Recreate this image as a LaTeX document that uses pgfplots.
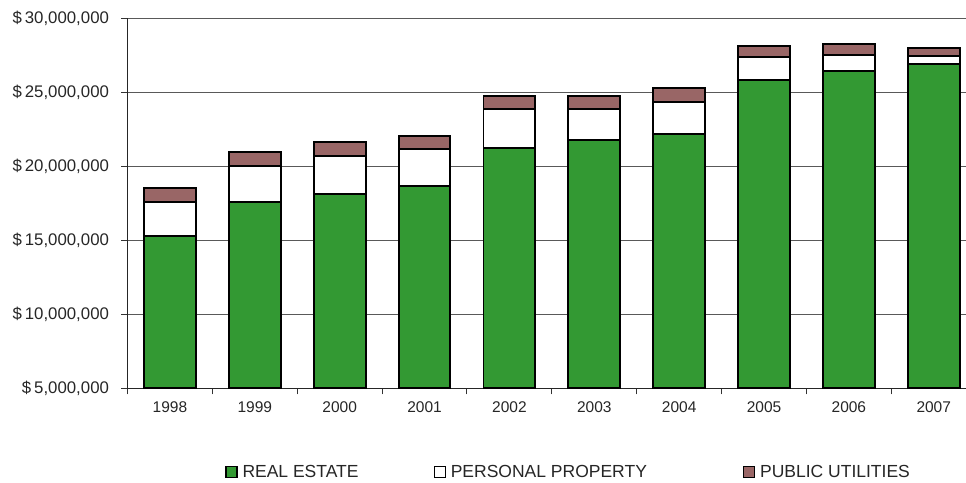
\documentclass[border=0pt]{standalone}
\usepackage{pgfplots}
\pgfplotsset{compat=1.18}
\usepackage{fontspec}
\setmainfont{Liberation Sans}
\definecolor{realestate}{HTML}{339933}
\definecolor{utilities}{HTML}{996666}
\newcommand{\dl}{\$\hspace{3pt}}
\begin{document}
\begin{tikzpicture}
\begin{axis}[
  name=ax,
  scale only axis,
  width=838.5pt, height=370pt,
  ybar stacked,
  bar width=0.61,
  xmin=-0.5, xmax=9.38,
  ymin=5000000, ymax=30000000,
  scaled y ticks=false,
  xtick={0,...,9},
  xticklabels={1998,1999,2000,2001,2002,2003,2004,2005,2006,2007},
  major x tick style={draw=none},
  minor xtick={-0.5,0.5,1.5,2.5,3.5,4.5,5.5,6.5,7.5,8.5},
  minor tick length=6pt,
  minor x tick style={black!80, line width=1pt},
  ytick={5000000,10000000,15000000,20000000,25000000,30000000},
  yticklabels={{\dl5,000,000},{\dl10,000,000},{\dl15,000,000},{\dl20,000,000},{\dl25,000,000},{\dl30,000,000}},
  major tick length=6pt,
  tick align=outside,
  tick pos=left,
  y tick style={black!80, line width=1pt},
  ymajorgrids,
  grid style={black!65, line width=0.9pt},
  axis x line*=bottom,
  axis y line*=left,
  axis line style={black!85, line width=1pt, -},
  ticklabel style={font=\fontsize{15.5}{18}\selectfont, text=black!85},
  yticklabel style={xshift=-9pt, font=\fontsize{16.8}{18}\selectfont},
  xticklabel style={yshift=-4pt},
  legend columns=3,
  legend style={at={(rel axis cs:0.1163,-0.2262)}, anchor=west, draw=none, inner sep=0pt,
    font=\fontsize{17.5}{18}\selectfont, text=black!85,
    column sep=0pt,
    /tikz/every odd column/.style={column sep=5pt},
    nodes={inner sep=0pt}},
  legend image code/.code={\draw[#1, line width=1.3pt] (0pt,-5.5pt) rectangle (11pt,5.5pt);},
]
\addplot[fill=realestate, draw=black, line width=1.9pt] coordinates {(0,15310000) (1,17590000) (2,18150000) (3,18650000) (4,21240000) (5,21760000) (6,22180000) (7,25810000) (8,26460000) (9,26890000)};
\addplot[fill=white, draw=black, line width=1.9pt] coordinates {(0,2300000) (1,2410000) (2,2550000) (3,2540000) (4,2650000) (5,2130000) (6,2140000) (7,1600000) (8,1080000) (9,540000)};
\addplot[fill=utilities, draw=black, line width=1.9pt] coordinates {(0,940000) (1,950000) (2,940000) (3,860000) (4,840000) (5,840000) (6,970000) (7,740000) (8,700000) (9,540000)};
\legend{\makebox[191pt][l]{REAL ESTATE},\makebox[292pt][l]{PERSONAL PROPERTY},PUBLIC UTILITIES}
\end{axis}
\pgfresetboundingbox
\path ([xshift=-127.5pt,yshift=-94.7pt]ax.south west) rectangle ([yshift=18.3pt]ax.north east);
\end{tikzpicture}
\end{document}
